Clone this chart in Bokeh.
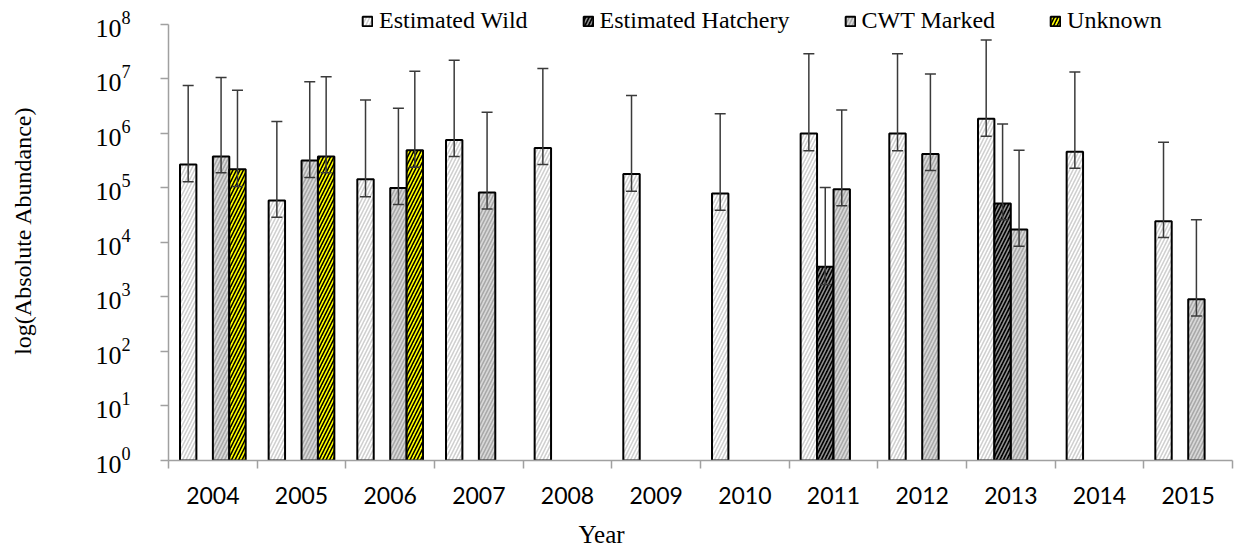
from bokeh.plotting import figure
from bokeh.models import (Range1d, FixedTicker, LogTickFormatter, Whisker, TeeHead,
                          ColumnDataSource, Legend, LegendItem, Title)
from bokeh.embed import file_html
from bokeh.resources import INLINE

# ---------------- data ----------------
years = ["2004", "2005", "2006", "2007", "2008", "2009", "2010",
         "2011", "2012", "2013", "2014", "2015"]

wild = [2.7e5, 5.9e4, 1.45e5, 7.6e5, 5.4e5, 1.8e5, 7.9e4, 1.0e6, 1.0e6, 1.86e6, 4.6e5, 2.45e4]
wild_hi = [7.6e6, 1.66e6, 4.1e6, 2.2e7, 1.55e7, 5.0e6, 2.3e6, 2.9e7, 2.9e7, 5.2e7, 1.35e7, 6.9e5]
wild_lo = [1.3e5, 2.9e4, 6.9e4, 3.8e5, 2.7e5, 8.7e4, 3.9e4, 4.8e5, 4.8e5, 8.9e5, 2.3e5, 1.23e4]

hatchery = [None, None, None, None, None, None, None, 3.6e3, None, 5.2e4, None, None]
hatchery_hi = [None, None, None, None, None, None, None, 1.02e5, None, 1.5e6, None, None]
hatchery_lo = [None, None, None, None, None, None, None, 1.7e3, None, 2.6e4, None, None]

cwt = [3.8e5, 3.2e5, 1.0e5, 8.3e4, None, None, None, 9.5e4, 4.2e5, 1.74e4, None, 910]
cwt_hi = [1.07e7, 8.9e6, 2.9e6, 2.45e6, None, None, None, 2.7e6, 1.23e7, 4.9e5, None, 2.6e4]
cwt_lo = [1.9e5, 1.55e5, 5.0e4, 4.1e4, None, None, None, 4.7e4, 2.1e5, 8.5e3, None, 450]

unknown = [2.2e5, 3.8e5, 4.9e5, None, None, None, None, None, None, None, None, None]
unknown_hi = [6.2e6, 1.1e7, 1.38e7, None, None, None, None, None, None, None, None, None]
unknown_lo = [1.07e5, 1.9e5, 2.4e5, None, None, None, None, None, None, None, None, None]

series = [
    ("Estimated Wild", wild, wild_hi, wild_lo),
    ("Estimated Hatchery", hatchery, hatchery_hi, hatchery_lo),
    ("CWT Marked", cwt, cwt_hi, cwt_lo),
    ("Unknown", unknown, unknown_hi, unknown_lo),
]

# ---------------- styles ----------------
offsets = [-0.278, -0.093, 0.093, 0.278]
bar_w = 0.185
fills = ["white", "black", "#d9d9d9", "#ffff00"]
hatch_cols = ["#d0d0d0", "#909090", "#a8a8a8", "#000000"]
SERIF = "Liberation Serif"

# frame reaches the top of the picture so the legend can overlap it; the axis stops at 10^8
p = figure(width=1236, height=560, output_backend="svg", toolbar_location=None,
           y_axis_type="log", x_range=Range1d(0, len(years)), y_range=Range1d(1, 10 ** 8.44),
           min_border_left=168, min_border_right=4, min_border_top=0, min_border_bottom=100)
p.outline_line_color = None
p.grid.visible = False
p.background_fill_color = "white"
p.border_fill_color = "white"

items = []
for (name, vals, his, los), off, fc, hc in zip(series, offsets, fills, hatch_cols):
    xs, tops, hi, lo = [], [], [], []
    for i, v in enumerate(vals):
        if v is None:
            continue
        xs.append(i + 0.5 + off)
        tops.append(v)
        hi.append(his[i])
        lo.append(los[i])
    src = ColumnDataSource(dict(x=xs, top=tops, hi=hi, lo=lo))
    r = p.vbar(x="x", top="top", bottom=1, width=bar_w, source=src,
               fill_color=fc, line_color="black", line_width=2,
               hatch_pattern="/", hatch_color=hc, hatch_scale=7, hatch_weight=1.6)
    items.append(LegendItem(label=name, renderers=[r]))
    w = Whisker(source=src, base="x", upper="hi", lower="lo",
                line_color="#3a3a3a", line_width=1.5, level="annotation",
                upper_head=TeeHead(size=11, line_color="#3a3a3a", line_width=1.5),
                lower_head=TeeHead(size=11, line_color="#3a3a3a", line_width=1.5))
    p.add_layout(w)

# ---------------- axes ----------------
ax = p.xaxis[0]
ax.ticker = FixedTicker(ticks=[i + 0.5 for i in range(len(years))],
                        minor_ticks=list(range(len(years) + 1)))
ax.major_label_overrides = {i + 0.5: y for i, y in enumerate(years)}
ax.major_tick_line_color = None
ax.major_tick_out = 0
ax.major_tick_in = 0
ax.minor_tick_out = 8
ax.minor_tick_in = 0
ax.minor_tick_line_color = "#a0a0a0"
ax.minor_tick_line_width = 1.5
ax.axis_line_color = "#a0a0a0"
ax.axis_line_width = 1.5
ax.major_label_text_font = "Lato"
ax.major_label_text_font_size = "23px"
ax.major_label_text_color = "black"
ax.major_label_standoff = 18

ay = p.yaxis[0]
ay.ticker = FixedTicker(ticks=[10 ** k for k in range(0, 9)], minor_ticks=[])
ay.formatter = LogTickFormatter()
ay.bounds = (1, 1e8)
ay.major_tick_out = 8
ay.major_tick_in = 0
ay.major_tick_line_color = "#a0a0a0"
ay.major_tick_line_width = 1.5
ay.minor_tick_line_color = None
ay.axis_line_color = "#a0a0a0"
ay.axis_line_width = 1.5
ay.major_label_text_font = SERIF
ay.major_label_text_font_size = "26px"
ay.major_label_text_color = "black"
ay.major_label_standoff = 30
ay.axis_label = "log(Absolute Abundance)"
ay.axis_label_text_font = SERIF
ay.axis_label_text_font_size = "24px"
ay.axis_label_text_font_style = "normal"
ay.axis_label_text_color = "black"
ay.axis_label_standoff = 56

t = Title(text="Year", align="left", offset=410, text_font=SERIF,
          text_font_size="25px", text_font_style="normal", text_color="black", standoff=24)
p.add_layout(t, "below")

legend = Legend(items=items, orientation="horizontal", location=(193, 426),
                label_text_font="'Liberation Serif', 'Times New Roman', serif",
                label_text_font_size="24px", label_text_color="black",
                glyph_width=12, glyph_height=12, label_standoff=6, spacing=54,
                padding=0, margin=0, border_line_color=None, background_fill_alpha=0)
p.add_layout(legend, "center")

open("out.html", "w").write(file_html(p, INLINE))
